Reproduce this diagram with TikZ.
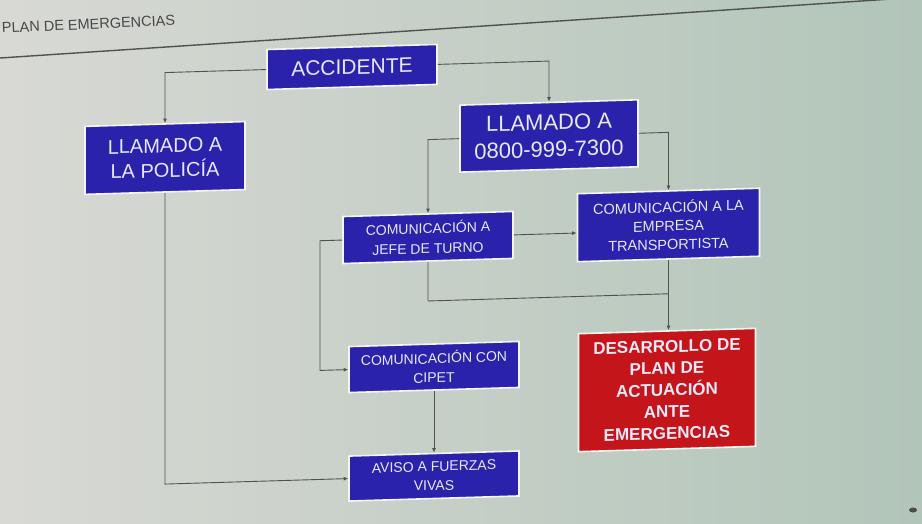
\documentclass[tikz,border=0pt]{standalone}
\usepackage{fontspec}
\setmainfont{Liberation Sans}
\usetikzlibrary{arrows.meta}
\definecolor{bgl}{RGB}{216,217,212}
\definecolor{bgr}{RGB}{178,197,185}
\definecolor{boxblue}{RGB}{42,34,170}
\definecolor{boxred}{RGB}{196,22,26}
\definecolor{txt}{RGB}{232,232,248}
\definecolor{wire}{RGB}{80,82,80}
\tikzset{
  flowbox/.style={draw=white!92!gray, line width=1.6pt, fill=boxblue, text=txt,
    align=center, inner sep=0pt, transform shape},
  bigtext/.style={font=\fontsize{21}{25}\selectfont},
  smalltext/.style={font=\fontsize{14}{19}\selectfont},
  redbox/.style={flowbox, fill=boxred, font=\bfseries\fontsize{17}{21.7}\selectfont},
  wirel/.style={draw=wire, line width=0.9pt, -{Latex[length=4.5pt,width=4pt]}},
  wireplain/.style={draw=wire, line width=0.9pt},
}
\begin{document}
\begin{tikzpicture}
\useasboundingbox (0,0) rectangle (922pt,-524pt);
\shade[left color=bgl, right color=bgr] (0,0) rectangle (922pt,-524pt);
% header
\draw[wire, line width=1.4pt] (0,-58pt) -- (922pt,3pt);
\node[anchor=base west, rotate=2.5, text=black!72, inner sep=0pt,
      font=\fontsize{14.5}{14.5}\selectfont] (title) at (2pt,-33pt) {PLAN DE EMERGENCIAS};
\fill[black!70] (913pt,-510pt) ellipse (4pt and 2.5pt);

% slight shear imitating the photo's perspective: points further right sit higher
\begin{scope}[shift={(461pt,0pt)}, cm={1,0.03,0,1,(0,0)}, shift={(-461pt,0pt)}, x=1pt, y=-1pt]
  \node[flowbox, minimum width=170pt, minimum height=40pt, bigtext] (acc) at (352,63.7) {ACCIDENTE};
  \node[flowbox, minimum width=160pt, minimum height=68pt, font=\fontsize{20}{25}\selectfont] (pol) at (165,149.1) {LLAMADO A\\LA POLICÍA};
  \node[flowbox, minimum width=178pt, minimum height=67pt, font=\fontsize{22}{27}\selectfont] (tel) at (549,138.6) {LLAMADO A\\0800-999-7300};
  \node[flowbox, minimum width=170pt, minimum height=47pt, font=\fontsize{14}{20}\selectfont] (jefe) at (428,236.5) {COMUNICACIÓN A\\JEFE DE TURNO};
  \node[flowbox, minimum width=182pt, minimum height=68pt, font=\fontsize{14.5}{18.5}\selectfont] (emp) at (668.5,231.2) {COMUNICACIÓN A LA\\EMPRESA\\TRANSPORTISTA};
  \node[flowbox, minimum width=170pt, minimum height=46pt, smalltext] (cipet) at (434,366.2) {COMUNICACIÓN CON\\CIPET};
  \node[flowbox, minimum width=170pt, minimum height=45pt, smalltext] (aviso) at (434,475.2) {AVISO A FUERZAS\\VIVAS};
  \node[redbox, minimum width=177pt, minimum height=118pt] (des) at (667,396.2) {DESARROLLO DE\\PLAN DE\\ACTUACIÓN\\ANTE\\EMERGENCIAS};

  \coordinate (jn) at (668.5,300);
  \coordinate (lx) at (320,300);

  \draw[wirel] (acc.west) -| (pol.north);
  \draw[wirel] (acc.east) -| (tel.north);
  \draw[wirel] (tel.west) -| (jefe.north);
  \draw[wirel] (tel.east) -| (emp.north);
  \draw[wirel] (jefe.east) -- (jefe.east -| emp.west);
  \draw[wirel] (emp.south) -- (emp.south |- des.north);
  \draw[wireplain] (jefe.south) |- (jn);
  \draw[wirel] (jefe.west) -- (jefe.west -| lx) |- (cipet.west);
  \draw[wirel] (pol.south) |- (aviso.west);
  \draw[wirel] (cipet.south) -- (aviso.north);
\end{scope}
\end{tikzpicture}
\end{document}
